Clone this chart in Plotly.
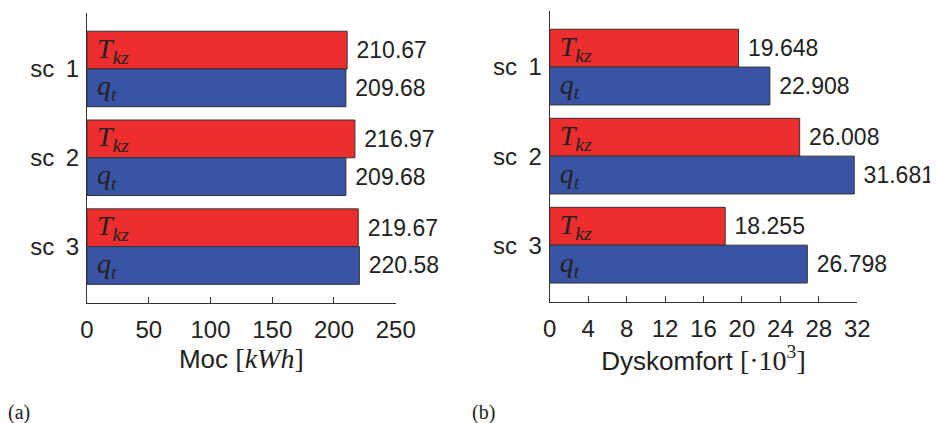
import plotly.graph_objects as go

categories = ["sc 1", "sc 2", "sc 3"]
power_tkz = [210.67, 216.97, 219.67]
power_qt = [209.68, 209.68, 220.58]
disc_tkz = [19.648, 26.008, 18.255]
disc_qt = [22.908, 31.681, 26.798]
label_tkz = "<i>T</i><sub><i>kz</i></sub>"
label_qt = "<i>q</i><sub><i>t</i></sub>"

RED = "rgb(238,46,46)"
BLUE = "rgb(58,84,165)"
EDGE = "#333333"
TXT = "#222222"
SANS = "Liberation Sans"
SERIF = "Liberation Serif"
NB = "\u00a0"
THIN = "\u2009"

# page body has an 8px margin: figure drawn from (8, 8)
OFF = 8
W, H = 938 - OFF, 423 - OFF


def dx(p):
    return (p - OFF) / W


def dy(p):
    return 1 - (p - OFF) / H


fig = go.Figure()


def add_series(vals, color, label, grp, xa, ya):
    fig.add_trace(go.Bar(
        y=categories, x=vals, orientation="h", offsetgroup=grp,
        marker=dict(color=color, line=dict(color=EDGE, width=1)),
        text=[NB + label] * len(vals), textposition="inside", insidetextanchor="start",
        textangle=0, constraintext="none",
        textfont=dict(family=SERIF, size=28, color=TXT),
        xaxis=xa, yaxis=ya, showlegend=False, hoverinfo="skip"))
    fig.add_trace(go.Bar(
        y=categories, x=vals, orientation="h", offsetgroup=grp,
        marker=dict(color="rgba(0,0,0,0)", line=dict(width=0)),
        text=[NB + f"{v}" for v in vals], textposition="outside",
        textangle=0, constraintext="none", cliponaxis=False,
        textfont=dict(family=SANS, size=23, color=TXT),
        xaxis=xa, yaxis=ya, showlegend=False, hoverinfo="skip"))


add_series(power_tkz, RED, label_tkz, "r", "x", "y")
add_series(power_qt, BLUE, label_qt, "b", "x", "y")
add_series(disc_tkz, RED, label_tkz, "r", "x2", "y2")
add_series(disc_qt, BLUE, label_qt, "b", "x2", "y2")

axis_common = dict(showline=True, linecolor=EDGE, linewidth=1, showgrid=False, zeroline=False,
                   automargin=False, tickfont=dict(family=SANS, size=24, color=TXT))
ytick_text = [c.replace(" ", NB + THIN) for c in categories]
title_font = dict(family=SANS, size=26, color=TXT)

fig.update_layout(
    width=W, height=H,
    margin=dict(l=0, r=0, t=0, b=0),
    paper_bgcolor="white", plot_bgcolor="white",
    barmode="group", bargap=0.15, bargroupgap=0,
    xaxis=dict(domain=[dx(87), dx(395.7)], range=[0, 250], dtick=50, anchor="y",
               ticks="inside", ticklen=6, tickcolor=EDGE, ticklabelstandoff=5,
               title=dict(text="Moc <span style='font-family:Liberation Serif;font-size:28px'>[<i>kWh</i>]</span>",
                          font=title_font, standoff=6),
               **axis_common),
    yaxis=dict(domain=[dy(303), dy(13)], range=[2.635, -0.63], anchor="x",
               tickmode="array", tickvals=categories, ticktext=ytick_text,
               ticks="", ticklabelstandoff=2, **axis_common),
    xaxis2=dict(domain=[dx(549.7), dx(857.3)], range=[0, 32], dtick=4, anchor="y2",
                ticks="inside", ticklen=6, tickcolor=EDGE, ticklabelstandoff=5,
                title=dict(text="Dyskomfort <span style='font-family:Liberation Serif;font-size:28px'>[·10<sup>3</sup>]</span>",
                           font=title_font, standoff=6),
                **axis_common),
    yaxis2=dict(domain=[dy(301.7), dy(11)], range=[2.635, -0.63], anchor="x2",
                tickmode="array", tickvals=categories, ticktext=ytick_text,
                ticks="", ticklabelstandoff=2, **axis_common),
    annotations=[
        dict(text="(a)", x=dx(6), y=dy(412), xref="paper", yref="paper",
             xanchor="left", yanchor="middle", showarrow=False,
             font=dict(family=SERIF, size=20, color=TXT)),
        dict(text="(b)", x=dx(470), y=dy(412), xref="paper", yref="paper",
             xanchor="left", yanchor="middle", showarrow=False,
             font=dict(family=SERIF, size=20, color=TXT)),
    ],
)

fig.write_html("out.html")
